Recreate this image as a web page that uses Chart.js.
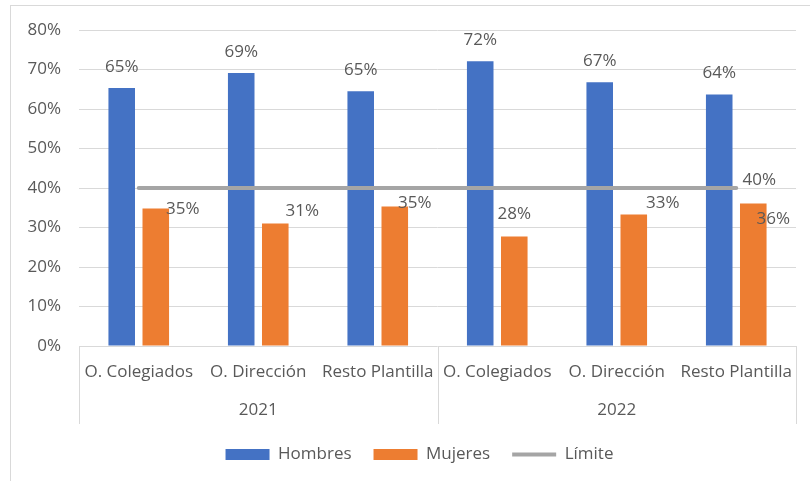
<!DOCTYPE html>
<html>
<head>
<meta charset="utf-8">
<script src="https://cdn.jsdelivr.net/npm/chart.js@4"></script>
<style>
html, body { margin: 0; padding: 0; background: #fff; }
#wrap { position: relative; width: 810px; height: 481px; overflow: hidden; }
#frame { position: absolute; left: 10px; top: 5px; width: 900px; height: 600px;
         border-top: 1px solid #d9d9d9; border-left: 1px solid #d9d9d9; }
canvas { position: absolute; left: 0; top: 0; }
</style>
</head>
<body>
<div id="wrap">
  <div id="frame"></div>
  <canvas id="chart" width="810" height="481"></canvas>
</div>
<script>
// data
const categories = ['O. Colegiados', 'O. Dirección', 'Resto Plantilla',
                    'O. Colegiados', 'O. Dirección', 'Resto Plantilla'];
const years = ['2021', '2022'];
const hombres = [65.3, 69.1, 64.5, 72.1, 66.8, 63.7];
const mujeres = [34.8, 31.0, 35.3, 27.7, 33.3, 36.1];
const limite = [40, 40, 40, 40, 40, 40];
const yTicks = [0, 10, 20, 30, 40, 50, 60, 70, 80];

const textColor = '#595959';
const gridColor = '#d9d9d9';

Chart.defaults.font.family = '"Open Sans", sans-serif';
Chart.defaults.font.size = 17;
Chart.defaults.color = textColor;

// vertical separators of the two-level category axis
const groupLines = {
    id: 'groupLines',
    afterDraw(chart) {
        const x = chart.scales.x;
        const x2 = chart.scales.x2;
        const ctx = chart.ctx;
        const mid = (x2.getPixelForValue(0) + x2.getPixelForValue(1)) / 2;
        ctx.save();
        ctx.strokeStyle = gridColor;
        ctx.lineWidth = 1;
        [x.left, mid, x.right].forEach(px => {
            const p = Math.round(px) + 0.5;
            ctx.beginPath();
            ctx.moveTo(p, x.top);
            ctx.lineTo(p, x2.bottom);
            ctx.stroke();
        });
        ctx.restore();
    }
};

// the legend in the original sits a bit right of centre
const legendShift = {
    id: 'legendShift',
    afterLayout(chart) {
        chart.legend.left += 8;
        chart.legend.right += 8;
    }
};

// value labels, nudged like the original
const valueLabels = {
    id: 'valueLabels',
    afterDatasetsDraw(chart, args, opts) {
        const ctx = chart.ctx;
        ctx.save();
        ctx.font = '17px "Open Sans"';
        ctx.fillStyle = textColor;
        ctx.textAlign = 'center';
        ctx.textBaseline = 'middle';
        chart.data.datasets.forEach((ds, di) => {
            const meta = chart.getDatasetMeta(di);
            const nudge = opts.nudges[di];
            meta.data.forEach((el, i) => {
                const n = nudge[i];
                if (!n) return;
                ctx.fillText(Math.round(ds.data[i]) + '%', el.x + n[0], el.y + n[1]);
            });
        });
        ctx.restore();
    }
};

const ctx = document.getElementById('chart').getContext('2d');
new Chart(ctx, {
    type: 'bar',
    data: {
        labels: categories,
        datasets: [
            {
                label: 'Hombres',
                data: hombres,
                backgroundColor: '#4472c4',
                borderWidth: 0,
                pointStyle: 'rect',
                categoryPercentage: 0.57,
                barPercentage: 0.78
            },
            {
                label: 'Mujeres',
                data: mujeres,
                backgroundColor: '#ed7d31',
                borderWidth: 0,
                pointStyle: 'rect',
                categoryPercentage: 0.57,
                barPercentage: 0.78
            },
            {
                type: 'line',
                label: 'Límite',
                data: limite,
                borderColor: '#a5a5a5',
                borderWidth: 4,
                borderCapStyle: 'round',
                pointRadius: 0,
                pointHoverRadius: 0,
                pointStyle: 'line',
                pointBorderColor: '#a5a5a5',
                pointBorderWidth: 4,
                order: -1
            }
        ]
    },
    options: {
        responsive: false,
        animation: false,
        layout: { padding: { left: 27, right: 14, top: 30, bottom: 8 } },
        scales: {
            y: {
                min: 0,
                max: 80,
                afterBuildTicks: s => { s.ticks = yTicks.map(v => ({ value: v })); },
                afterFit: s => { s.width = 52; },
                grid: { color: gridColor, drawTicks: false },
                border: { display: false },
                ticks: { padding: 18, callback: v => v + '%' }
            },
            x: {
                afterFit: s => { s.height = 38; },
                grid: { display: false },
                border: { display: false },
                ticks: { padding: 8, maxRotation: 0, autoSkip: false }
            },
            x2: {
                type: 'category',
                labels: years,
                position: 'bottom',
                offset: true,
                afterFit: s => { s.height = 40; },
                grid: { display: false },
                border: { display: false },
                ticks: { padding: 8, maxRotation: 0 }
            }
        },
        plugins: {
            legend: {
                position: 'bottom',
                labels: {
                    usePointStyle: true,
                    pointStyleWidth: 44,
                    boxHeight: 11,
                    padding: 22,
                    color: textColor,
                    sort: (a, b) => a.datasetIndex - b.datasetIndex
                }
            },
            tooltip: { enabled: false },
            valueLabels: {
                nudges: [
                    [[0, -21], [0, -21], [0, -21], [0, -21], [0, -21], [0, -21]],
                    [[27, 1], [27, -12], [20, -3], [0, -22], [29, -11], [20, 16]],
                    [null, null, null, null, null, [23, -8]]
                ]
            }
        }
    },
    plugins: [groupLines, legendShift, valueLabels]
});
</script>
</body>
</html>
